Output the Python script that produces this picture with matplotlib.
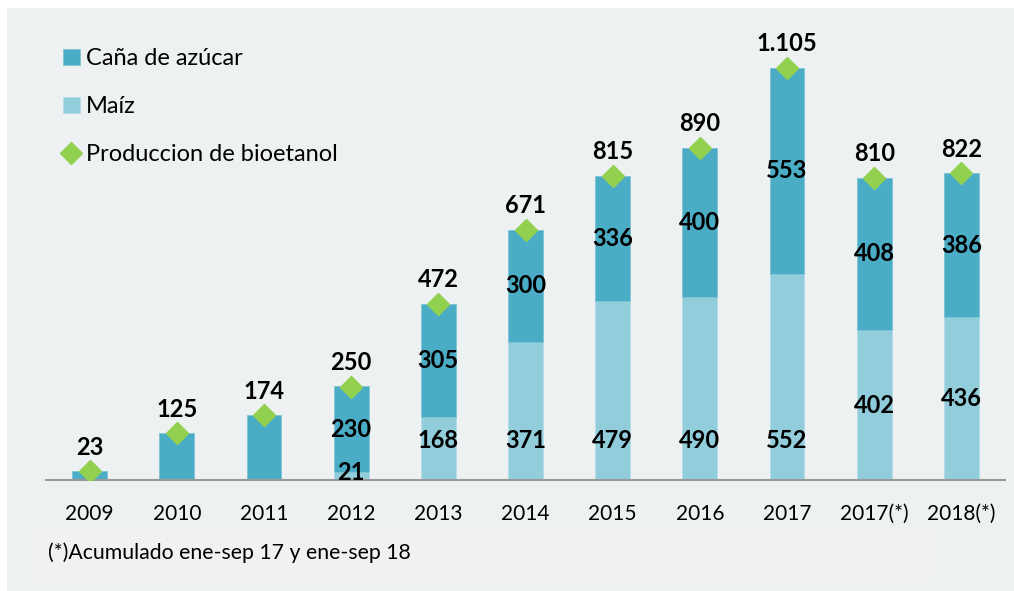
import numpy as np
import matplotlib
matplotlib.use("Agg")
import matplotlib.pyplot as plt
from matplotlib.patches import Rectangle

plt.rcParams['font.family'] = ['Lato', 'DejaVu Sans']

years = ["2009", "2010", "2011", "2012", "2013", "2014", "2015", "2016", "2017", "2017(*)", "2018(*)"]
maiz = [0, 0, 0, 21, 168, 371, 479, 490, 552, 402, 436]
cana = [23, 125, 174, 230, 305, 300, 336, 400, 553, 408, 386]
total = [23, 125, 174, 250, 472, 671, 815, 890, 1105, 810, 822]
total_lbl = ["23", "125", "174", "250", "472", "671", "815", "890", "1.105", "810", "822"]

C_CANA = "#4BACC6"
C_MAIZ = "#92CDDC"
C_DIAM = "#92D050"
BG = "#EDF1F2"

fig = plt.figure(figsize=(10.14, 5.91), dpi=100)
fig.patch.set_facecolor("white")
# grey panel + footnote box
fig.patches.append(Rectangle((7/1014, 0), 1 - 7/1014, 1 - 8/591, transform=fig.transFigure,
                             facecolor=BG, edgecolor="none", zorder=-2))
fig.patches.append(Rectangle((30/1014, 11/591), 903/1014, 52/591, transform=fig.transFigure,
                             facecolor="#F1F1F2", edgecolor="none", zorder=-1))

ax = fig.add_axes([46/1014, 111/591, 959/1014, 460/591])
ax.set_facecolor("none")
x = np.arange(len(years))
w = 0.4
ax.bar(x, maiz, w, color=C_MAIZ, edgecolor="#B5DDE8", lw=0.6, label="Maíz", zorder=2)
ax.bar(x, cana, w, bottom=maiz, color=C_CANA, edgecolor="#7FC3D6", lw=0.6,
       label="Caña de azúcar", zorder=2)
ax.plot(x, total, ls="none", marker="D", ms=11, color=C_DIAM, mec=C_DIAM,
        label="Produccion de bioetanol", zorder=4)

for i in range(len(years)):
    ax.annotate(total_lbl[i], (x[i], total[i]), xytext=(0, 24), textcoords="offset pixels",
                ha="center", va="center", fontsize=17, fontweight="bold", zorder=5)
    if cana[i] and maiz[i]:
        ax.text(x[i], maiz[i] + cana[i] / 2, str(cana[i]), ha="center", va="center",
                fontsize=17, fontweight="bold", zorder=5)
    if maiz[i]:
        ym = maiz[i] / 2 if "*" in years[i] else min(maiz[i], 105)
        ax.text(x[i], ym, str(maiz[i]), ha="center", va="center",
                fontsize=17, fontweight="bold", zorder=5)

ax.set_xlim(-0.5, 10.5)
ax.set_ylim(0, 1233)
ax.set_yticks([])
for s in ["top", "right", "left"]:
    ax.spines[s].set_visible(False)
ax.spines["bottom"].set_color("#999999")
ax.spines["bottom"].set_linewidth(1.5)
ax.set_xticks(x)
ax.set_xticklabels(years, fontsize=15)
ax.tick_params(axis="x", length=0, pad=17)

h, l = ax.get_legend_handles_labels()
order = [2, 1, 0]
ax.legend([h[k] for k in order], [l[k] for k in order], loc="upper left",
          bbox_to_anchor=(0.0, 0.975), frameon=False, fontsize=17, handlelength=0.75,
          handletextpad=0.25, labelspacing=1.15, borderaxespad=0.3)

fig.text(48/1014, 1 - 553/591, "(*)Acumulado ene-sep 17 y ene-sep 18", fontsize=15.3,
         ha="left", va="center")

fig.savefig("out.png", dpi=100, facecolor=fig.get_facecolor())
